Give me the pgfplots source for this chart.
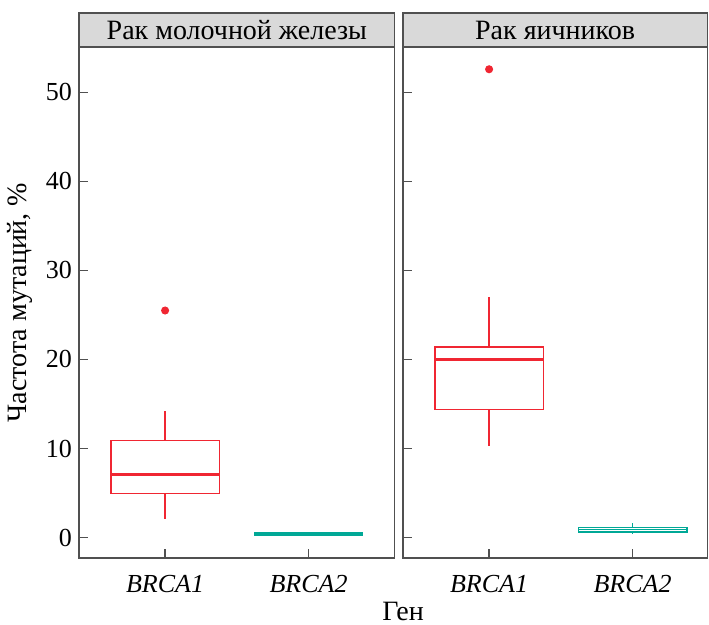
\documentclass[border=0pt]{standalone}
\usepackage{fontspec}
\setmainfont{Liberation Serif}
\usepackage{pgfplots}
\pgfplotsset{compat=1.18}
\usepgfplotslibrary{statistics}
\usetikzlibrary{calc}

\definecolor{bred}{RGB}{240,38,50}
\definecolor{bteal}{RGB}{0,168,150}
\definecolor{frame}{RGB}{80,80,80}
\definecolor{strip}{RGB}{217,217,217}

\pgfplotsset{
  panel/.style={
    scale only axis,
    x=71.75pt, height=255.5pt,
    xmin=0.4, ymin=-2.3, ymax=55.1,
    xtick={1,2}, xticklabels={\textit{BRCA1},\textit{BRCA2}},
    ytick={0,10,...,50},
    xtick pos=bottom, ytick pos=left,
    tick align=inside, major tick length=4.5pt,
    axis line style={frame, line width=0.6pt},
    tick style={frame, line width=0.6pt},
    tick label style={font=\fontsize{13}{15}\selectfont},
    label style={font=\fontsize{14}{16}\selectfont},
    /pgf/number format/assume math mode=true,
    xticklabel style={yshift=-5pt},
    boxplot/draw direction=y,
    boxplot/box extend=0.755,
    boxplot/whisker extend=0,
  },
  bx/.style={line width=0.75pt, mark=*, mark size=1.75pt,
    mark options={solid, line width=0.5pt},
    boxplot/every box/.style={draw=#1, line width=0.75pt},
    boxplot/every whisker/.style={draw=#1, line width=0.75pt},
    boxplot/every median/.style={draw=#1, line width=1.5pt}},
}

\begin{document}
\begin{tikzpicture}
% Рак молочной железы
\begin{axis}[panel, name=p1, xmax=2.6,
  ylabel={Частота мутаций, \%}]
\addplot[bred, bx=bred, boxplot prepared={draw position=1,
  lower whisker=2.1, lower quartile=4.94, median=7.05,
  upper quartile=10.9, upper whisker=14.2}]
  table[row sep=\\, y index=0] {25.5\\};
\addplot[bteal, bx=bteal, boxplot/every median/.style={draw=bteal, line width=2pt},
  boxplot/every box/.style={draw=bteal, line width=2pt},
  boxplot prepared={draw position=2,
  lower whisker=0.34, lower quartile=0.34, median=0.34,
  upper quartile=0.34, upper whisker=0.34}]
  coordinates {};
\end{axis}
% Рак яичников
\begin{axis}[panel, name=p2, xmax=2.52, at={(162pt,0)}, anchor=south west,
  yticklabels={}]
\addplot[bred, bx=bred, boxplot prepared={draw position=1,
  lower whisker=10.3, lower quartile=14.4, median=19.95,
  upper quartile=21.4, upper whisker=27.0}]
  table[row sep=\\, y index=0] {52.6\\};
\addplot[bteal, bx=bteal, boxplot/every median/.style={draw=bteal, line width=0.75pt},
  boxplot prepared={draw position=2,
  lower whisker=0.45, lower quartile=0.6, median=0.88,
  upper quartile=1.15, upper whisker=1.6}]
  coordinates {};
\end{axis}

\foreach \p/\t in {p1/Рак молочной железы, p2/Рак яичников}{
  \draw[frame, fill=strip, line width=0.6pt] (\p.north west) rectangle ([yshift=17pt]\p.north east);
  \node[font=\fontsize{14}{16}\selectfont] at ($(\p.north west)!0.5!(\p.north east)+(0,8.5pt)$) {\t};
}
\node[font=\fontsize{14}{16}\selectfont, inner sep=0pt] at (162pt,-26.5pt) {Ген};

\pgfresetboundingbox
\path (-39.5pt,-33.5pt) rectangle (315pt,279pt);
\end{tikzpicture}
\end{document}
